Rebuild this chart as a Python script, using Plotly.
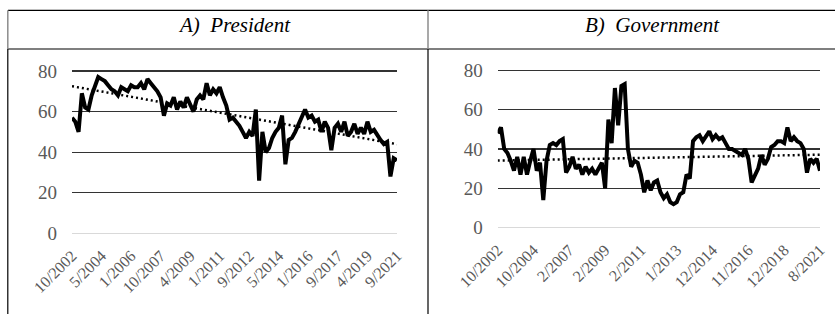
import numpy as np
import plotly.graph_objects as go

# ---------------- data ----------------
president = [57, 55, 50, 69, 62, 61, 68, 72, 77, 76,
             75, 73, 71, 70, 68, 72, 71, 70, 73, 72,
             72, 74, 71, 76, 74, 72, 70, 67, 58, 64,
             63, 67, 61, 65, 62, 67, 63, 60, 66, 68,
             66, 74, 68, 71, 69, 72, 67, 63, 56, 57,
             55, 53, 50, 47, 50, 48, 61, 26, 50, 40,
             42, 47, 50, 52, 58, 34, 46, 47, 50, 54,
             58, 61, 57, 58, 55, 56, 50, 55, 52, 41,
             52, 54, 50, 55, 48, 50, 54, 49, 52, 49,
             55, 50, 51, 48, 46, 44, 45, 28, 37, 36]

government = [48, 51, 40, 38, 34, 29, 36, 27, 36, 27,
              34, 40, 29, 33, 14, 34, 42, 43, 42, 44,
              45, 28, 31, 36, 30, 32, 27, 31, 28, 30,
              27, 30, 33, 20, 55, 43, 71, 52, 72, 73,
              40, 31, 34, 33, 27, 18, 24, 19, 23, 24,
              18, 15, 17, 13, 12, 13, 17, 18, 27, 25,
              44, 46, 47, 44, 47, 49, 45, 47, 45, 46,
              43, 40, 40, 39, 38, 37, 40, 35, 23, 27,
              30, 37, 32, 35, 41, 42, 44, 44, 43, 51,
              44, 46, 44, 43, 40, 28, 35, 33, 35, 29]

president_ticks = ["10/2002", "5/2004", "1/2006", "10/2007", "4/2009", "1/2011",
                   "9/2012", "5/2014", "1/2016", "9/2017", "4/2019", "9/2021"]
government_ticks = ["10/2002", "10/2004", "2/2007", "2/2009", "2/2011",
                    "1/2013", "12/2014", "11/2016", "12/2018", "8/2021"]
panel_titles = ["A)\u00a0\u00a0President", "B)\u00a0\u00a0Government"]
y_ticks = [0, 20, 40, 60, 80]

# ---------------- layout helpers ----------------
W, H = 835, 314
FONT = "Liberation Serif, Times New Roman, serif"
GRAY = "#595959"


def px(x):
    return x / W


def py(y):
    return 1 - y / H


panels = [
    # values, ticks, x-left, x-right, y(0), y(80), title-x
    (president, president_ticks, 72, 397, 233.3, 71.0, 234),
    (government, government_ticks, 497.7, 820, 227.7, 70.3, 652),
]

fig = go.Figure()
layout = dict(
    template="none",
    width=W, height=H,
    margin=dict(l=0, r=0, t=0, b=0, pad=0, autoexpand=False),
    paper_bgcolor="white", plot_bgcolor="white",
    showlegend=False,
    font=dict(family=FONT, color=GRAY),
)
annotations = []

for k, (vals, ticks, xl, xr, y0, y80, tx) in enumerate(panels):
    sfx = "" if k == 0 else str(k + 1)
    x = np.arange(len(vals))
    fig.add_trace(go.Scatter(x=x, y=vals, mode="lines",
                             line=dict(color="black", width=4),
                             xaxis="x" + sfx, yaxis="y" + sfx,
                             hoverinfo="skip"))
    coef = np.polyfit(x, vals, 1)
    ends = [x[0], x[-1]]
    fig.add_trace(go.Scatter(x=ends, y=np.polyval(coef, ends), mode="lines",
                             line=dict(color="black", width=2.5, dash="2px,3px"),
                             xaxis="x" + sfx, yaxis="y" + sfx,
                             hoverinfo="skip"))
    step = (len(vals) - 1) / (len(ticks) - 1)
    tickvals = [i * step for i in range(len(ticks))]
    unit = (y0 - y80) / 80.0
    ybot = y0 + unit * 1
    ytop = y80 - unit * 1
    layout["xaxis" + sfx] = dict(
        domain=[px(xl), px(xr)], range=[0, len(vals) - 1],
        anchor="y" + sfx, automargin=False,
        tickmode="array", tickvals=tickvals, ticktext=ticks,
        tickangle=-45, tickfont=dict(size=16, color=GRAY, family=FONT),
        showgrid=False, zeroline=False, showline=False, ticks="",
        ticklabelstandoff=7,
    )
    layout["yaxis" + sfx] = dict(
        domain=[py(ybot), py(ytop)], range=[-1, 81],
        anchor="x" + sfx, automargin=False,
        tickmode="array", tickvals=y_ticks,
        tickfont=dict(size=19, color=GRAY, family=FONT),
        showgrid=True, gridcolor="#333333", gridwidth=1.3,
        zeroline=True, zerolinecolor="#d9d9d9", zerolinewidth=1.5,
        showline=False, ticks="", ticklabelstandoff=14,
    )
    annotations.append(dict(
        text="<i>" + panel_titles[k] + "</i>", x=px(tx), y=py(25),
        xref="paper", yref="paper", xanchor="center", yanchor="middle",
        showarrow=False, font=dict(size=21, color="black", family=FONT),
    ))

shapes = [
    dict(type="line", xref="paper", yref="paper", x0=px(8), x1=1, y0=py(10.3), y1=py(10.3),
         line=dict(color="black", width=1.2)),
    dict(type="line", xref="paper", yref="paper", x0=px(8), x1=1, y0=py(49), y1=py(49),
         line=dict(color="black", width=1.2)),
    dict(type="line", xref="paper", yref="paper", x0=px(7.8), x1=px(7.8), y0=py(10.3), y1=py(49),
         line=dict(color="#8c8c8c", width=1.5)),
    dict(type="line", xref="paper", yref="paper", x0=px(7.8), x1=px(7.8), y0=py(49), y1=0,
         line=dict(color="black", width=1.2)),
    dict(type="line", xref="paper", yref="paper", x0=px(428), x1=px(428), y0=py(10.3), y1=py(49),
         line=dict(color="#8c8c8c", width=1.5)),
    dict(type="line", xref="paper", yref="paper", x0=px(428), x1=px(428), y0=py(49), y1=0,
         line=dict(color="black", width=1.2)),
]

layout["annotations"] = annotations
layout["shapes"] = shapes
fig.update_layout(**layout)
fig.write_html(
    "out.html",
    config={"displayModeBar": False, "staticPlot": True},
    post_script="document.body.style.margin='0';document.body.style.padding='0';"
                "document.body.style.overflow='hidden';",
)
